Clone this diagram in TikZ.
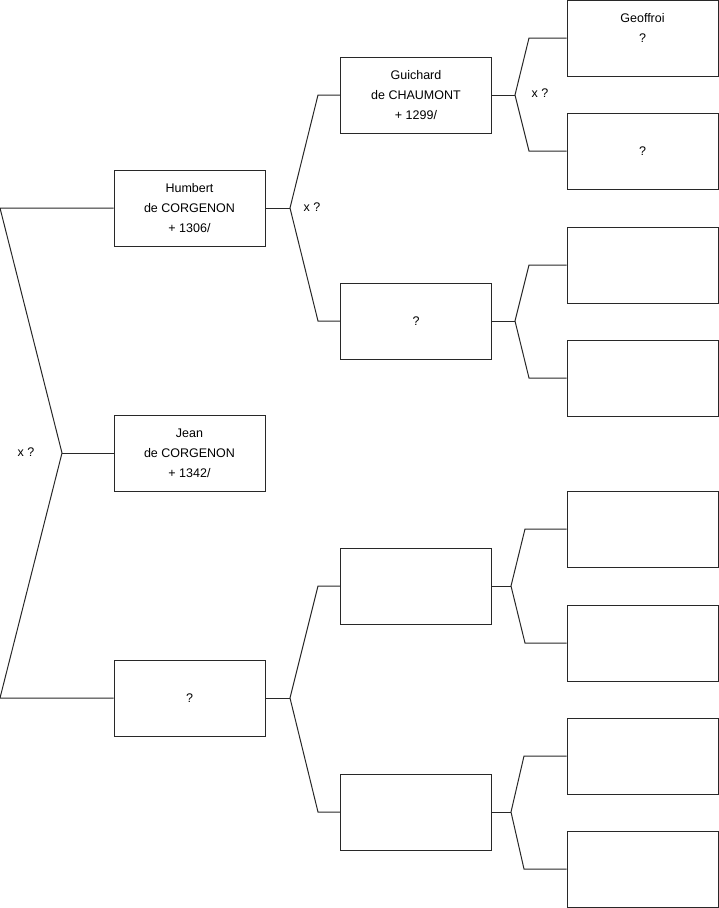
\documentclass[tikz,border=0pt]{standalone}
\usepackage{fontspec}
\setmainfont{Liberation Sans}
\usetikzlibrary{positioning}
\definecolor{linegray}{RGB}{40,40,40}

\begin{document}
\begin{tikzpicture}[
    x=1pt, y=-1pt,
    every node/.style={font=\fontsize{12.5}{20}\selectfont},
    person/.style={rectangle, minimum width=151pt, minimum height=76pt,
                   align=center, draw=linegray, line width=1pt, inner sep=0pt},
    link/.style={draw=linegray, line width=1pt},
    union/.style={inner sep=0pt}
]
\useasboundingbox (0,0) rectangle (719,908);

% Generation 1
\node (humbert) [person] at (189.5,208) {Humbert\\de CORGENON\\+ 1306/};
\node (jean) [person] at (189.5,453) {Jean\\de CORGENON\\+ 1342/};
\node (wife) [person] at (189.5,698) {?};

% Generation 2
\node (guichard) [person] at (416,95) {Guichard\\de CHAUMONT\\+ 1299/};
\node (hmother) [person] at (416,321) {?};
\node (wfather) [person] at (416,586) {};
\node (wmother) [person] at (416,812) {};

% Generation 3
\node (geoffroi) [person] at (642.5,38) {Geoffroi\\?\\\mbox{}};
\node (gmother) [person] at (642.5,151) {?};
\node (hmfather) [person] at (642.5,265) {};
\node (hmmother) [person] at (642.5,378) {};
\node (wffather) [person] at (642.5,529) {};
\node (wfmother) [person] at (642.5,643) {};
\node (wmfather) [person] at (642.5,756) {};
\node (wmmother) [person] at (642.5,869) {};

% Fork points
\coordinate (fk0) at (62,453);
\coordinate (fk0a) at (0,208);
\coordinate (fk0b) at (0,698);
\coordinate (fk1) at (290,208);
\coordinate (fk1a) at (318,95);
\coordinate (fk1b) at (318,321);
\coordinate (fk2) at (290,698);
\coordinate (fk2a) at (318,586);
\coordinate (fk2b) at (318,812);
\coordinate (fk3) at (515,95);
\coordinate (fk3a) at (529,38);
\coordinate (fk3b) at (529,151);
\coordinate (fk4) at (515,321);
\coordinate (fk4a) at (529,265);
\coordinate (fk4b) at (529,378);
\coordinate (fk5) at (511,586);
\coordinate (fk5a) at (525,529);
\coordinate (fk5b) at (525,643);
\coordinate (fk6) at (511,812);
\coordinate (fk6a) at (524,756);
\coordinate (fk6b) at (524,869);

% Marriage labels
\node (m0) [union] at (26,452) {x ?};
\node (m1) [union] at (312,207) {x ?};
\node (m2) [union] at (540,93) {x ?};

% Links
\draw [link] (humbert.west) -- (fk0a) -- (fk0) -- (fk0b) -- (wife.west);
\draw [link] (fk0) -- (jean.west);

\draw [link] (humbert.east) -- (fk1);
\draw [link] (guichard.west) -- (fk1a) -- (fk1) -- (fk1b) -- (hmother.west);
\draw [link] (wife.east) -- (fk2);
\draw [link] (wfather.west) -- (fk2a) -- (fk2) -- (fk2b) -- (wmother.west);

\draw [link] (guichard.east) -- (fk3);
\draw [link] (geoffroi.west) -- (fk3a) -- (fk3) -- (fk3b) -- (gmother.west);
\draw [link] (hmother.east) -- (fk4);
\draw [link] (hmfather.west) -- (fk4a) -- (fk4) -- (fk4b) -- (hmmother.west);
\draw [link] (wfather.east) -- (fk5);
\draw [link] (wffather.west) -- (fk5a) -- (fk5) -- (fk5b) -- (wfmother.west);
\draw [link] (wmother.east) -- (fk6);
\draw [link] (wmfather.west) -- (fk6a) -- (fk6) -- (fk6b) -- (wmmother.west);

\end{tikzpicture}
\end{document}
